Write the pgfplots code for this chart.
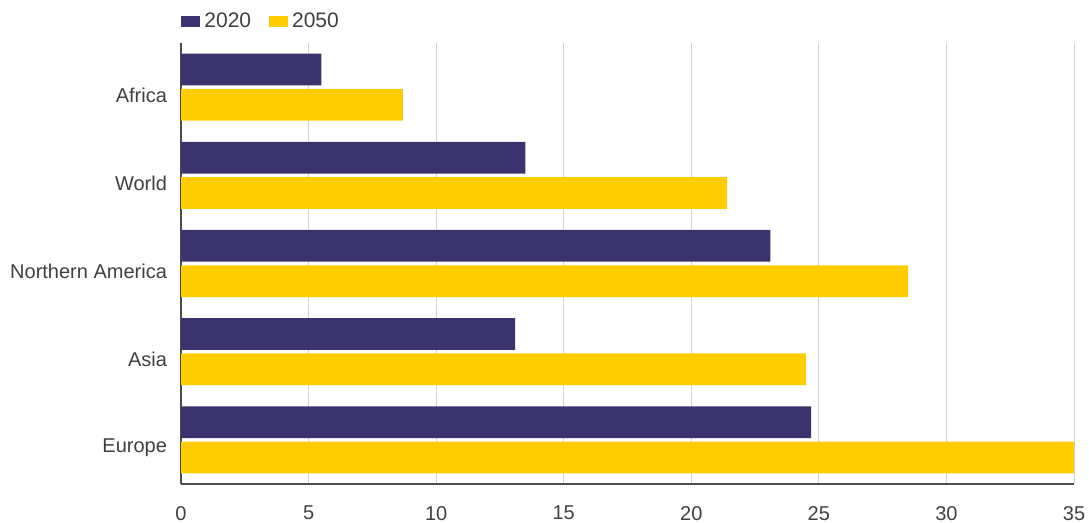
\documentclass[border=0pt]{standalone}
\usepackage{fontspec}
\setmainfont{Liberation Sans}
\usepackage{pgfplots}
\pgfplotsset{compat=1.18}
\definecolor{c2020}{HTML}{3B336D}
\definecolor{c2050}{HTML}{FFCC00}
\definecolor{txt}{HTML}{404040}
\begin{document}
\begin{tikzpicture}
\begin{axis}[
  scale only axis, width=446.5pt, height=220.5pt,
  xbar, bar width=0.36,
  xmin=0, xmax=35, ymin=-0.5, ymax=4.5,
  xtick={0,5,...,35}, ytick={0,1,2,3,4},
  yticklabels={Europe,Asia,Northern America,World,Africa},
  axis x line*=bottom, axis y line*=left,
  axis line style={draw=black!70, line width=0.6pt},
  major tick length=0pt,
  xmajorgrids, grid style={draw=black!18, line width=0.5pt},
  tick label style={font=\fontsize{10}{12}\selectfont, text=txt},
  /pgf/number format/assume math mode=true,
  yticklabel style={xshift=-3.5pt, yshift=-4pt},
  xticklabel style={yshift=-7.5pt},
  legend style={at={(0,1)}, anchor=south west, draw=none, fill=none, inner sep=0pt,
    yshift=4pt, font=\fontsize{10.5}{12}\selectfont, text=txt,
    /tikz/every even column/.append style={column sep=7pt}},
  legend columns=2,
  legend image code/.code={\fill[#1] (0pt,-2.75pt) rectangle (9.5pt,2.75pt);},
]
\addplot[fill=c2020, draw=none, bar shift=0.2] coordinates {(24.7,0) (13.1,1) (23.1,2) (13.5,3) (5.5,4)};
\addplot[fill=c2050, draw=none, bar shift=-0.2] coordinates {(35,0) (24.5,1) (28.5,2) (21.4,3) (8.7,4)};
\legend{2020,2050}
\end{axis}
\pgfresetboundingbox
\path ([shift={(-90.5pt,-19.5pt)}]current axis.south west) rectangle ([shift={(7.5pt,21.5pt)}]current axis.north east);
\end{tikzpicture}
\end{document}
